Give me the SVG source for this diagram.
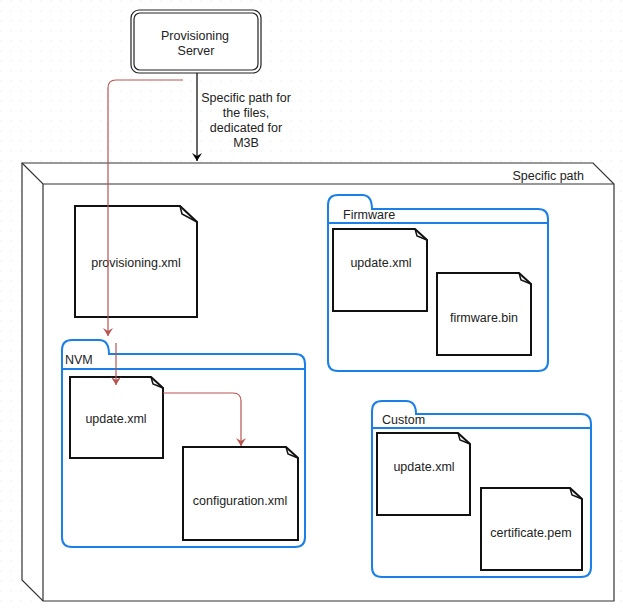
<svg xmlns="http://www.w3.org/2000/svg" width="623" height="609" viewBox="0 0 623 609">
<defs>
<pattern id="grid" width="10" height="10" patternUnits="userSpaceOnUse"><circle cx="1" cy="1" r="0.6" fill="#dcdcdc"/></pattern>
<marker id="ab" markerWidth="10" markerHeight="10" refX="8" refY="5" orient="auto" markerUnits="userSpaceOnUse"><path d="M0,0 L8,5 L0,10 L3,5 Z" fill="#000"/></marker>
<marker id="ar" markerWidth="10" markerHeight="10" refX="8" refY="5" orient="auto" markerUnits="userSpaceOnUse"><path d="M0,0 L8,5 L0,10 L3,5 Z" fill="#b85450"/></marker>
</defs>
<style>
text{font-family:"Liberation Sans",Arial,sans-serif;font-size:12.5px;fill:#222}
.c{text-anchor:middle}
.note{fill:#fff;stroke:#111;stroke-width:2}
.fold{fill:#fff;stroke:#1a7fe6;stroke-width:2}
.red{fill:none;stroke:#b85450;stroke-width:1.2}
</style>
<rect width="623" height="609" fill="#fff"/>
<rect width="623" height="609" fill="url(#grid)"/>
<g id="path-node">
<path d="M22,163 L593,163 L614,184 L614,601 L43,601 L22,580 Z" fill="#fff" stroke="#333" stroke-width="1.2"/>
<path d="M22,163 L43,184 L614,184 M43,184 L43,601" fill="none" stroke="#333" stroke-width="1.2"/>
<text x="584" y="180" text-anchor="end">Specific path</text>
</g>
<g id="server">
<rect x="131" y="10" width="130" height="63" rx="8" fill="#fff" stroke="#222" stroke-width="1.2"/>
<rect x="134" y="13" width="124" height="57" rx="6" fill="none" stroke="#222" stroke-width="1.2"/>
<text class="c" x="195" y="40">Provisioning</text>
<text class="c" x="196" y="55">Server</text>
</g>
<g id="provisioning">
<path class="note" d="M75,206 L180,206 L197,222 L197,317 L75,317 Z"/>
<path d="M180,206 L182,214 L197,222" fill="none" stroke="#111" stroke-width="1.5"/>
<text class="c" x="136" y="267">provisioning.xml</text>
</g>
<g id="firmware">
<path class="fold" d="M328,205 Q328,195 338,195 L362,195 Q372,195 372,209 L538,209 Q548,209 548,219 L548,361 Q548,371 538,371 L338,371 Q328,371 328,361 Z"/>
<line x1="328" y1="223" x2="548" y2="223" stroke="#1a7fe6" stroke-width="2"/>
<text x="343" y="219">Firmware</text>
<path class="note" d="M333,229 L415,229 L427,240 L427,311 L333,311 Z"/>
<path d="M415,229 L417,236 L427,240" fill="none" stroke="#111" stroke-width="1.5"/>
<text class="c" x="381" y="267">update.xml</text>
<path class="note" d="M437,273 L519,273 L531,284 L531,355 L437,355 Z"/>
<path d="M519,273 L521,280 L531,284" fill="none" stroke="#111" stroke-width="1.5"/>
<text class="c" x="484" y="322">firmware.bin</text>
</g>
<g id="nvm">
<path class="fold" d="M62,350 Q62,340 72,340 L99,340 Q109,340 109,354 L295,354 Q305,354 305,364 L305,537 Q305,547 295,547 L72,547 Q62,547 62,537 Z"/>
<line x1="62" y1="369" x2="305" y2="369" stroke="#1a7fe6" stroke-width="2"/>
<text x="65" y="364">NVM</text>
<path class="note" d="M70,377 L151,377 L163,388 L163,458 L70,458 Z"/>
<path d="M151,377 L153,384 L163,388" fill="none" stroke="#111" stroke-width="1.5"/>
<text class="c" x="116" y="423">update.xml</text>
<path class="note" d="M183,447 L286,447 L298,458 L298,540 L183,540 Z"/>
<path d="M286,447 L288,454 L298,458" fill="none" stroke="#111" stroke-width="1.5"/>
<text class="c" x="240" y="505">configuration.xml</text>
</g>
<g id="custom">
<path class="fold" d="M372,411 Q372,401 382,401 L406,401 Q416,401 416,414 L581,414 Q591,414 591,424 L591,567 Q591,577 581,577 L382,577 Q372,577 372,567 Z"/>
<line x1="372" y1="428" x2="591" y2="428" stroke="#1a7fe6" stroke-width="2"/>
<text x="382" y="424">Custom</text>
<path class="note" d="M377,433 L458,433 L470,444 L470,515 L377,515 Z"/>
<path d="M458,433 L460,440 L470,444" fill="none" stroke="#111" stroke-width="1.5"/>
<text class="c" x="424" y="471">update.xml</text>
<path class="note" d="M481,488 L570,488 L582,499 L582,570 L481,570 Z"/>
<path d="M570,488 L572,495 L582,499" fill="none" stroke="#111" stroke-width="1.5"/>
<text class="c" x="531" y="537">certificate.pem</text>
</g>
<g id="connectors">
<line x1="197" y1="73" x2="197" y2="161" stroke="#000" stroke-width="1.2" marker-end="url(#ab)"/>
<text class="c" x="246" y="102">Specific path for</text>
<text class="c" x="246" y="117">the files,</text>
<text class="c" x="246" y="132">dedicated for</text>
<text class="c" x="246" y="147">M3B</text>
<path class="red" d="M183,80 L116,80 Q108,80 108,88 L108,336" marker-end="url(#ar)"/>
<path class="red" d="M116,343 L116,385" marker-end="url(#ar)"/>
<path class="red" d="M163,393 L233,393 Q241,393 241,401 L241,446" marker-end="url(#ar)"/>
</g>
</svg>
